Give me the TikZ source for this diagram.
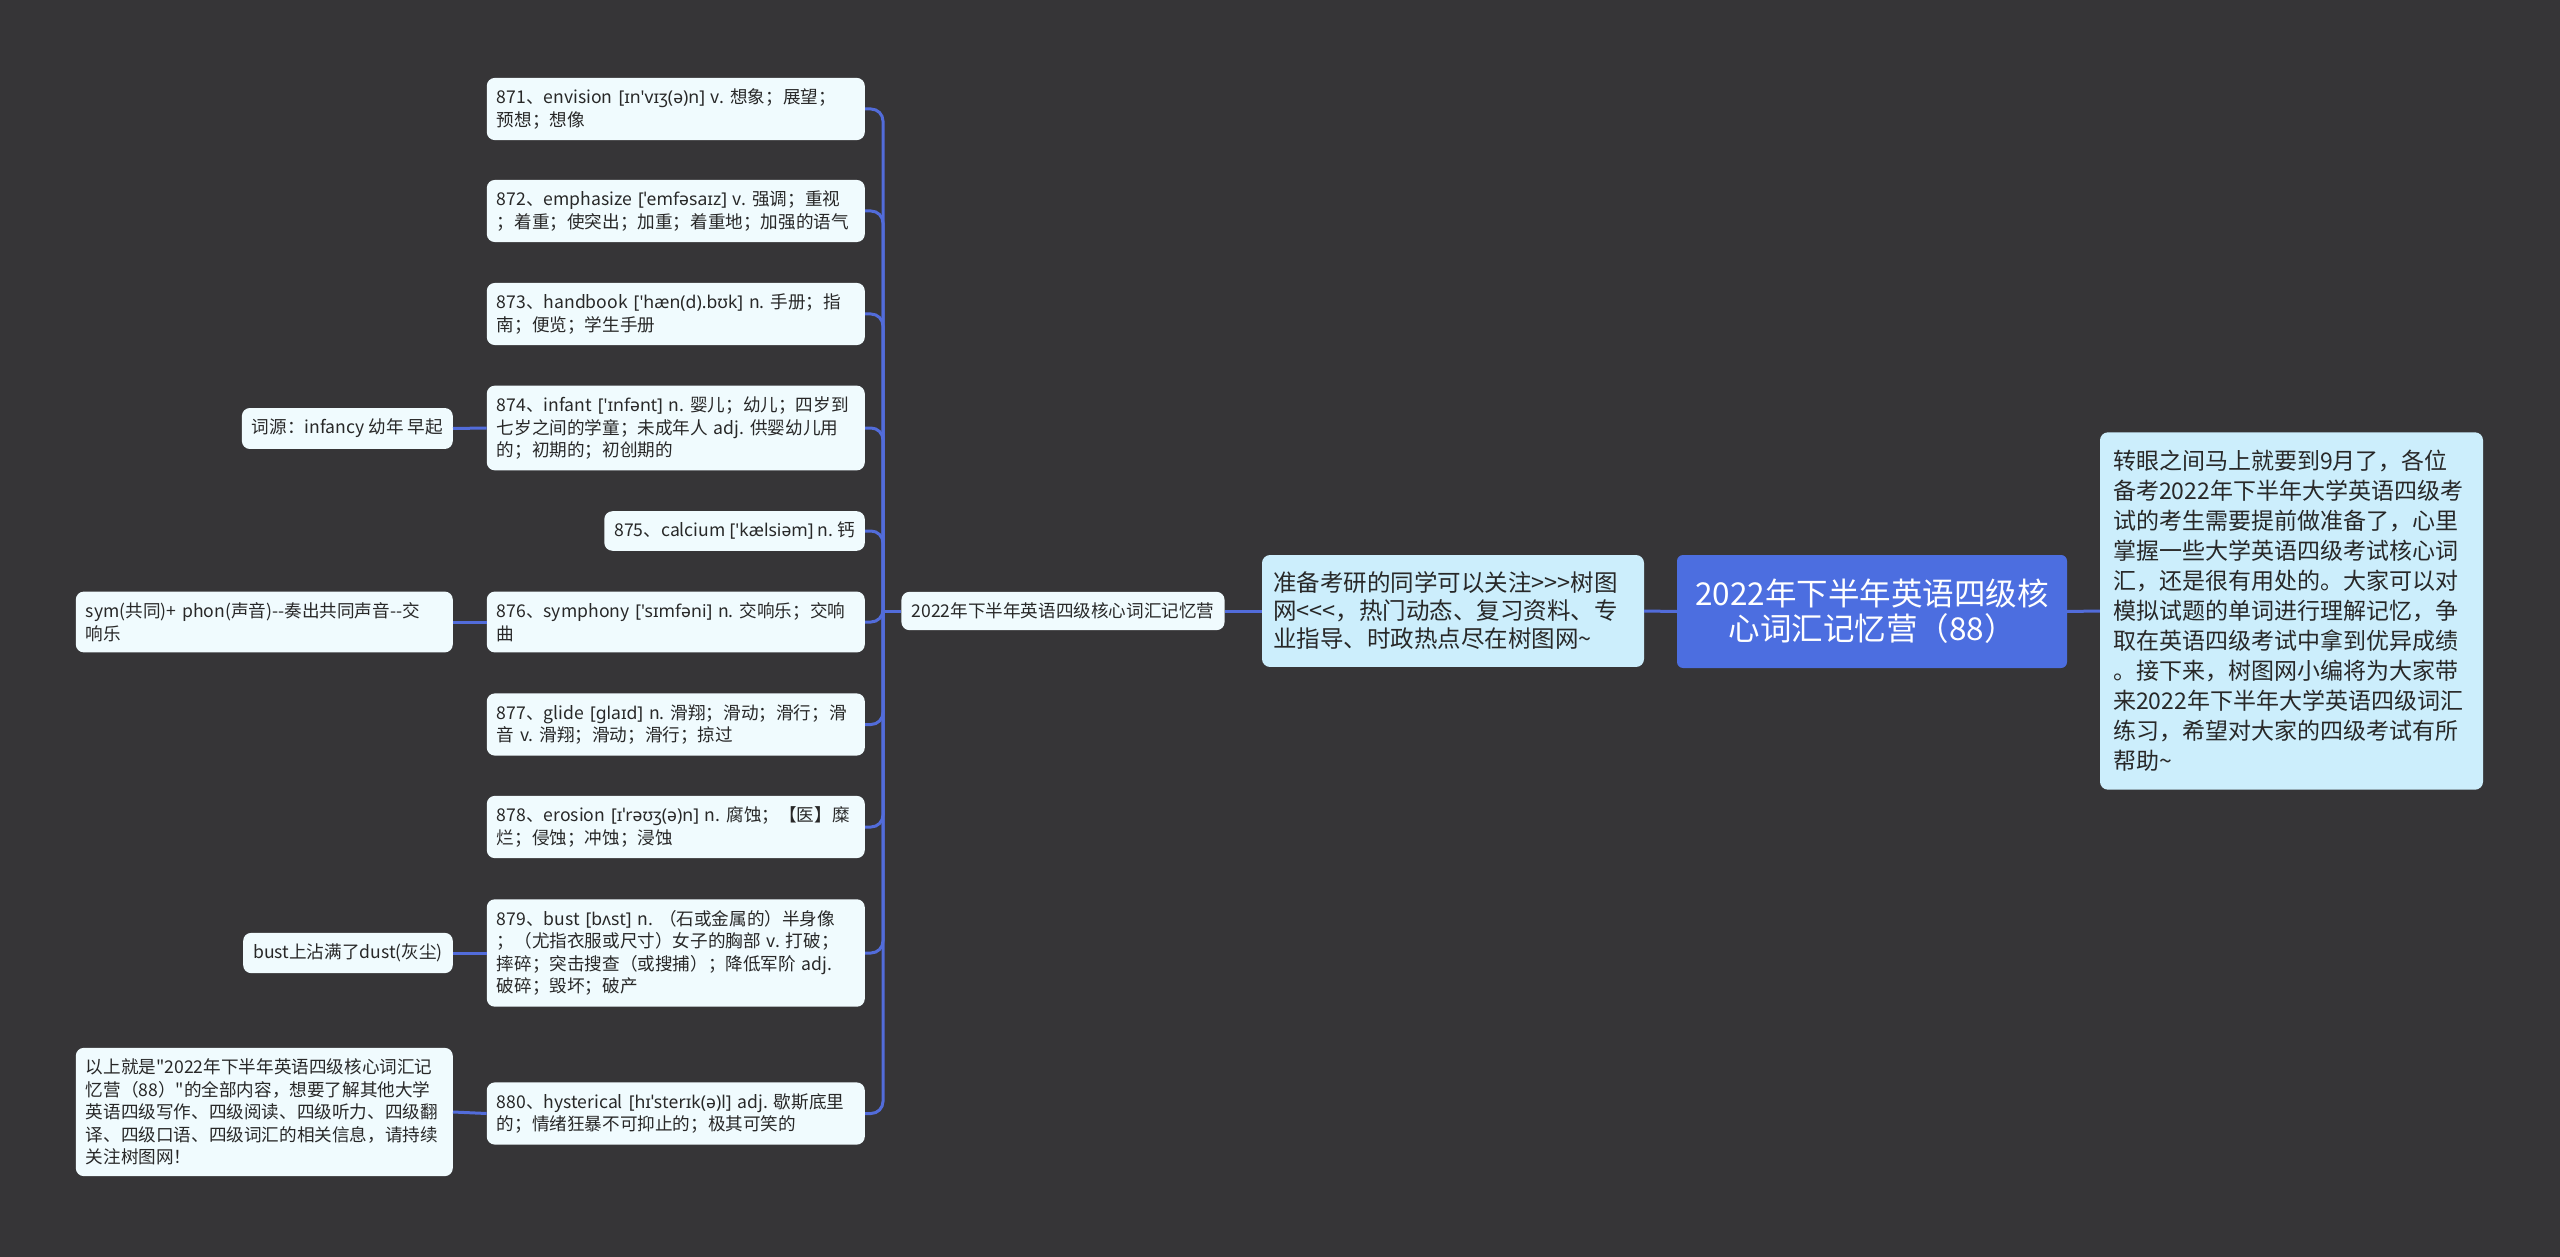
\documentclass[tikz,border=0pt]{standalone}
\usepackage{fontspec}
\setmainfont{Noto Sans CJK SC}[Ligatures=TeXOff]
\newfontfamily\ipafont{Noto Sans}[Ligatures=TeXOff]
\newcommand{\ipa}[1]{{\ipafont #1}}
\definecolor{bgcol}{RGB}{54,53,55}
\definecolor{linecol}{RGB}{82,108,218}
\definecolor{rootcol}{RGB}{76,110,224}
\definecolor{leafcol}{RGB}{240,251,254}
\definecolor{notecol}{RGB}{204,238,252}
\definecolor{inkcol}{RGB}{40,40,40}
\frenchspacing

\begin{document}
\begin{tikzpicture}[x=1pt,y=-1pt,
    box/.style={fill=leafcol,rounded corners=8pt,text=inkcol,inner xsep=10pt,inner ysep=11pt,
        font=\fontsize{17.6}{22.5}\selectfont},
    word/.style={box,align=left,text width=358pt,anchor=east},
    side/.style={box,align=left,anchor=east},
    note/.style={box,fill=notecol,align=left},
    link/.style={draw=linecol,line width=3pt}]
        \fill[bgcol] (0,0) rectangle (2560,1257);

        % centre and the two notes
        \node[fill=rootcol,rounded corners=6pt,text=white,align=center,minimum width=390pt,minimum height=113pt,
            font=\fontsize{31.5}{35}\selectfont] (root) at (1872,611.5)
            {2022年下半年英语四级核\\心词汇记忆营（88）};
        \node[note,text width=357pt,inner xsep=13pt,inner ysep=18pt,font=\fontsize{23}{30}\selectfont] (intro) at (2291.5,611)
            {转眼之间马上就要到9月了，各位\\备考2022年下半年大学英语四级考\\试的考生需要提前做准备了，心里\\掌握一些大学英语四级考试核心词\\汇，还是很有用处的。大家可以对\\模拟试题的单词进行理解记忆，争\\取在英语四级考试中拿到优异成绩\\。接下来，树图网小编将为大家带\\来2022年下半年大学英语四级词汇\\练习，希望对大家的四级考试有所\\帮助\textasciitilde};
        \node[note,text width=360pt,inner xsep=11pt,inner ysep=17pt,font=\fontsize{23.5}{28}\selectfont] (ad) at (1453,611)
            {准备考研的同学可以关注>>>树图\\网<<<，热门动态、复习资料、专\\业指导、时政热点尽在树图网\textasciitilde};
        \node[box] (cat) at (1063,611) {2022年下半年英语四级核心词汇记忆营};

        % words
        \node[word] (w871) at (865,109) {871、envision~\ipa{[ɪn'vɪʒ(ə)n]}~v.~想象；展望；\\预想；想像};
        \node[word] (w872) at (865,211) {872、emphasize~\ipa{[ˈemfəsaɪz]}~v.~强调；重视\\；着重；使突出；加重；着重地；加强的语气};
        \node[word] (w873) at (865,314) {873、handbook~\ipa{['hæn(d).bʊk]}~n.~手册；指\\南；便览；学生手册};
        \node[word] (w874) at (865,428) {874、infant~\ipa{['ɪnfənt]}~n.~婴儿；幼儿；四岁到\\七岁之间的学童；未成年人~adj.~供婴幼儿用\\的；初期的；初创期的};
        \node[side] (w875) at (865,531) {875、calcium \ipa{['kælsiəm]} n. 钙};
        \node[word] (w876) at (865,622) {876、symphony~\ipa{['sɪmfəni]}~n.~交响乐；交响\\曲};
        \node[word] (w877) at (865,724.5) {877、glide~\ipa{[glaɪd]}~n.~滑翔；滑动；滑行；滑\\音~v.~滑翔；滑动；滑行；掠过};
        \node[word] (w878) at (865,827) {878、erosion~\ipa{[ɪˈrəʊʒ(ə)n]}~n.~腐蚀；【医】糜\\烂；侵蚀；冲蚀；浸蚀};
        \node[word] (w879) at (865,953) {879、bust~\ipa{[bʌst]}~n.~（石或金属的）半身像\\；（尤指衣服或尺寸）女子的胸部~v.~打破；\\摔碎；突击搜查（或搜捕）；降低军阶~adj.\\破碎；毁坏；破产};
        \node[word] (w880) at (865,1113.5) {880、hysterical~\ipa{[hɪˈsterɪk(ə)l]}~adj.~歇斯底里\\的；情绪狂暴不可抑止的；极其可笑的};

        % notes on words
        \node[side] (n874) at (453,428.5) {词源：infancy 幼年 早起};
        \node[side,text width=357pt] (n876) at (453,622) {sym(共同)+~phon(声音)-{}-奏出共同声音-{}-交\\响乐};
        \node[side] (n879) at (453,953) {bust上沾满了dust(灰尘)};
        \node[side,text width=357pt] (n880) at (453,1112) {以上就是"2022年下半年英语四级核心词汇记\\忆营（88）"的全部内容，想要了解其他大学\\英语四级写作、四级阅读、四级听力、四级翻\\译、四级口语、四级词汇的相关信息，请持续\\关注树图网！};

        % links
        \coordinate (hub) at (883,611);
        \draw[link] (root.west) -- (ad.east);
        \draw[link] (root.east) -- (intro.west);
        \draw[link] (ad.west) -- (cat.east);
        \draw[link] (cat.west) -- (hub);
        \foreach \w in {w871,w872,w873,w874,w875,w876,w877,w878,w879,w880}
            \draw[link,rounded corners=12pt] (hub) |- (\w.east);
        \draw[link] (w874.west) -- (n874.east);
        \draw[link] (w876.west) -- (n876.east);
        \draw[link] (w879.west) -- (n879.east);
        \draw[link] (w880.west) -- (n880.east);
\end{tikzpicture}
\end{document}
